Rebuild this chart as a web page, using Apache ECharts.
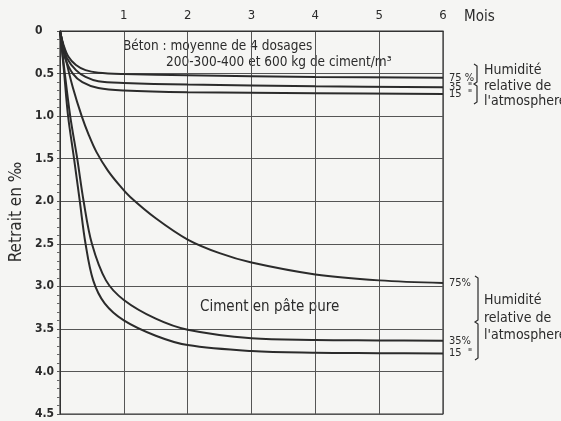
<!DOCTYPE html>
<html lang="fr">
<head>
  <meta charset="UTF-8">
  <title>Retrait</title>
  <style>
    body { margin: 0; padding: 0; background: #f5f5f3; }
    #chart { width: 561px; height: 421px; }
  </style>
</head>
<body>
  <div id="chart"></div>
  <script src="https://cdn.jsdelivr.net/npm/echarts@6/dist/echarts.min.js"></script>
  <script>
    // months on the x axis, shrinkage (per mille) on the y axis
    const monthTicks = [0, 1, 2, 3, 4, 5, 6];
    const retraitTicks = [0, 0.5, 1, 1.5, 2, 2.5, 3, 3.5, 4, 4.5];

    // béton, moyenne de 4 dosages
    const betonT75 = [0, 0.05, 0.13, 0.25, 0.4, 0.6, 1, 2, 4, 6];
    const betonV75 = [0, 0.15, 0.3, 0.4, 0.46, 0.49, 0.505, 0.52, 0.54, 0.55];
    const betonT35 = [0, 0.05, 0.11, 0.25, 0.4, 0.6, 1, 2, 4, 6];
    const betonV35 = [0, 0.17, 0.32, 0.46, 0.54, 0.59, 0.61, 0.63, 0.65, 0.66];
    const betonT15 = [0, 0.05, 0.08, 0.2, 0.35, 0.6, 1, 2, 4, 6];
    const betonV15 = [0, 0.19, 0.32, 0.5, 0.6, 0.67, 0.7, 0.72, 0.73, 0.74];

    // ciment en pâte pure
    const cimentT75 = [0, 0.1, 0.2, 0.34, 0.45, 0.57, 0.75, 0.94, 1.1, 1.5, 2, 2.5, 3, 4, 5, 6];
    const cimentV75 = [0, 0.36, 0.66, 1.0, 1.22, 1.42, 1.64, 1.82, 1.95, 2.2, 2.45, 2.61, 2.72, 2.86, 2.93, 2.96];
    const cimentT35 = [0, 0.06, 0.16, 0.27, 0.37, 0.5, 0.72, 1, 1.5, 2, 3, 4, 5, 6];
    const cimentV35 = [0, 0.4, 1.0, 1.5, 2.0, 2.5, 2.93, 3.16, 3.38, 3.51, 3.61, 3.63, 3.635, 3.64];
    const cimentT15 = [0, 0.06, 0.125, 0.22, 0.31, 0.4, 0.52, 0.7, 1, 1.5, 2, 3, 4, 5, 6];
    const cimentV15 = [0, 0.45, 0.99, 1.5, 2.0, 2.5, 2.93, 3.2, 3.4, 3.58, 3.69, 3.76, 3.78, 3.785, 3.79];

    const curveNames = ['Béton 75', 'Béton 35', 'Béton 15', 'Ciment 75', 'Ciment 35', 'Ciment 15'];
    const curveTags = ['75 %', '35  "', '15  "', '75%', '35%', '15  "'];
    const curveT = [betonT75, betonT35, betonT15, cimentT75, cimentT35, cimentT15];
    const curveV = [betonV75, betonV35, betonV15, cimentV75, cimentV35, cimentV15];

    const FONT = "'DejaVu Sans Condensed', 'Liberation Sans Narrow', sans-serif";
    const INK = '#2b2b2b';

    const chart = echarts.init(document.getElementById('chart'));

    const series = curveNames.map((name, i) => ({
      name: name,
      type: 'line',
      data: curveT[i].map((t, k) => [t, curveV[i][k]]),
      smooth: 0.35,
      showSymbol: false,
      lineStyle: { color: INK, width: 2 },
      endLabel: {
        show: true,
        formatter: curveTags[i],
        distance: 6,
        fontFamily: FONT,
        fontSize: 11,
        color: INK
      }
    }));

    function bracket(x, y1, y2, ym) {
      return {
        type: 'polyline',
        shape: { points: [[x - 3, y1], [x, y1 + 2], [x, ym - 2], [x - 3, ym], [x, ym + 2], [x, y2 - 2], [x - 3, y2]] },
        style: { stroke: INK, lineWidth: 1.2, fill: null }
      };
    }

    function text(x, y, str, size, lh) {
      return {
        type: 'text', x: x, y: y,
        style: { text: str, fontFamily: FONT, fontSize: size, fill: INK, lineHeight: lh || size + 2, verticalAlign: 'middle' }
      };
    }

    chart.setOption({
      backgroundColor: '#f5f5f3',
      animation: false,
      grid: {
        left: 60, right: 118, top: 31, bottom: 7,
        outerBoundsMode: 'none', containLabel: false,
        show: true, borderColor: '#333', borderWidth: 1.2
      },
      xAxis: {
        type: 'value', position: 'top',
        min: monthTicks[0], max: monthTicks[monthTicks.length - 1], interval: 1,
        axisLine: { show: true, lineStyle: { color: '#333' } },
        axisTick: { show: false },
        axisLabel: { formatter: v => (v === 0 ? '' : String(v)), fontFamily: FONT, fontSize: 13, color: INK, margin: 9 },
        splitLine: { show: true, lineStyle: { color: '#555', width: 1 } }
      },
      yAxis: {
        type: 'value', inverse: true,
        min: retraitTicks[0], max: retraitTicks[retraitTicks.length - 1], interval: 0.5,
        axisLine: { show: true, lineStyle: { color: '#333' } },
        axisTick: { show: true, length: 3, lineStyle: { color: '#555' } },
        minorTick: { show: true, splitNumber: 5, length: 3, lineStyle: { color: '#666' } },
        axisLabel: {
          formatter: v => (v === 0 ? '0' : v.toFixed(1)),
          fontFamily: FONT, fontSize: 12, fontWeight: 'bold', color: INK, align: 'left', margin: 25
        },
        splitLine: { show: true, lineStyle: { color: '#555', width: 1 } }
      },
      series: series,
      graphic: [
        {
          type: 'text', x: 17, y: 212, rotation: Math.PI / 2,
          style: { text: 'Retrait en ‰', fontFamily: FONT, fontSize: 17, fill: INK, align: 'center', verticalAlign: 'middle' }
        },
        text(464, 17, 'Mois', 15),
        text(123, 46, 'Béton : moyenne de 4 dosages', 13.5),
        text(166, 62, '200-300-400 et 600 kg de ciment/m³', 13.5),
        text(200, 307, 'Ciment en pâte pure', 15),
        text(484, 86, 'Humidité\nrelative de\nl\'atmosphere', 14, 15.5),
        text(484, 318, 'Humidité\nrelative de\nl\'atmosphere', 14, 17.5),
        bracket(477, 64, 104, 84),
        bracket(478, 276, 360, 322)
      ]
    });
  </script>
</body>
</html>
